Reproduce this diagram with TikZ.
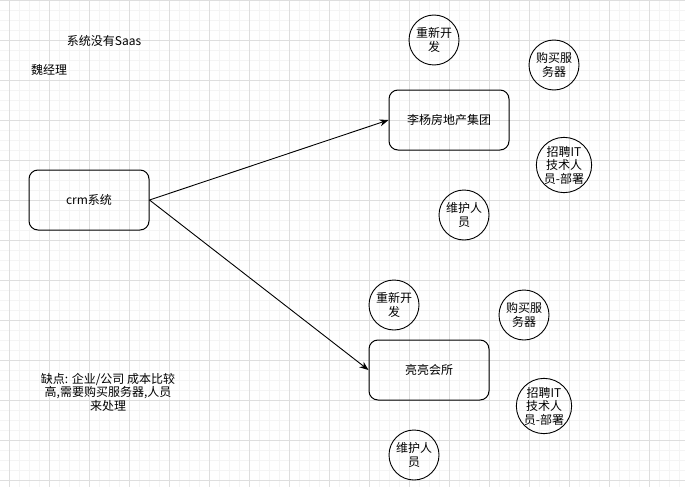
\documentclass[tikz,border=0pt]{standalone}
\usepackage{fontspec}
\setmainfont{Noto Sans CJK SC}
\usepackage{tikz}
\usetikzlibrary{arrows.meta,positioning}
\definecolor{gridminor}{RGB}{244,244,244}
\definecolor{gridmajor}{RGB}{222,222,222}

\tikzset{
  boxnode/.style={draw, line width=1pt, rounded corners=9pt, minimum width=120pt, minimum height=60pt, align=center},
  circnode/.style={draw, circle, line width=0.9pt, minimum size=50pt, inner sep=0pt, align=center},
  notetext/.style={align=center, inner sep=0pt},
  arr/.style={line width=0.9pt, -{Stealth[length=9pt,width=7pt]}}
}

\begin{document}
\begin{tikzpicture}[x=1pt,y=-1pt,font=\fontsize{12}{13.5}\selectfont]
      % background and grid
      \useasboundingbox (0,0) rectangle (685,487);
      \fill[white] (0,0) rectangle (685,487);
      \foreach \x in {9.5,19.5,...,685} \draw[gridminor,line width=0.8pt] (\x,0) -- (\x,487);
      \foreach \y in {10,20,...,487} \draw[gridminor,line width=0.8pt] (0,\y) -- (685,\y);
      \foreach \x in {9.5,49.5,...,685} \draw[gridmajor,line width=0.8pt] (\x,0) -- (\x,487);
      \foreach \y in {0,40,...,487} \draw[gridmajor,line width=0.8pt] (0,\y) -- (685,\y);
      % notes
      \node[notetext] (saas) at (104,41) {系统没有Saas};
      \node[notetext] (wei) at (49,70) {魏经理};
      \node[notetext] (con) at (108,392) {缺点: 企业/公司 成本比较\\高,需要购买服务器,人员\\来处理};
      % boxes
      \node[boxnode] (crm) at (89,200) {crm系统};
      \node[boxnode] (lee) at (449,120) {李杨房地产集团};
      \node[boxnode] (club) at (429,370) {亮亮会所};
      % circles near first box
      \node[circnode] (dev1) at (434,40) {重新开\\发};
      \node[circnode] (buy1) at (554,65) {购买服\\务器};
      \node[circnode] (hire1) at (564,165) {招聘IT\\技术人\\员-部署};
      \node[circnode] (keep1) at (464,215) {维护人\\员};
      % circles near second box
      \node[circnode] (dev2) at (394,305) {重新开\\发};
      \node[circnode] (buy2) at (524,315) {购买服\\务器};
      \node[circnode] (hire2) at (544,406) {招聘IT\\技术人\\员-部署};
      \node[circnode] (keep2) at (414,455) {维护人\\员};
      % arrows
      \draw[arr] (crm.east) -- (lee.west);
      \draw[arr] (crm.east) -- (club.west);
\end{tikzpicture}
\end{document}
